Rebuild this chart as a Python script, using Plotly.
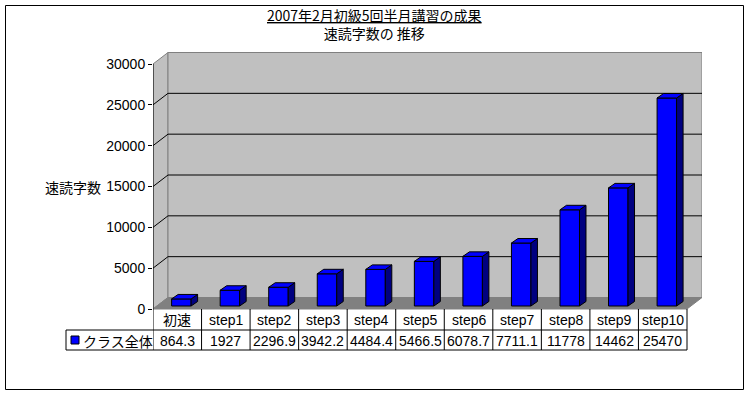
import plotly.graph_objects as go

# ---- data ----
categories = ["初速", "step1", "step2", "step3", "step4", "step5",
              "step6", "step7", "step8", "step9", "step10"]
values = [864.3, 1927, 2296.9, 3942.2, 4484.4, 5466.5,
          6078.7, 7711.1, 11778, 14462, 25470]
value_labels = ["864.3", "1927", "2296.9", "3942.2", "4484.4", "5466.5",
                "6078.7", "7711.1", "11778", "14462", "25470"]
series_name = "クラス全体"
y_ticks = [0, 5000, 10000, 15000, 20000, 25000, 30000]
title1 = "2007年2月初級5回半月講習の成果"
title2 = "速読字数の 推移"
y_title = "速読字数"

# ---- layout geometry (pixels) ----
W, H = 748, 393
PL, PR, PT, PB = 153, 702, 52, 350      # plot area
FRONT_R = 687                            # front right edge (table right)
Y0PX, YTOPPX = 309, 64                   # front 0 and front 30000
n = len(categories)
U = (FRONT_R - PL) / n                   # px per category
V = (Y0PX - YTOPPX) / 30000.0            # px per value unit

def xd(px):
    return -0.5 + (px - PL) / U

def yd(py):
    return (Y0PX - py) / V

def xp(px):
    return (px - PL) / (PR - PL)

def yp(py):
    return (PB - py) / (PB - PT)

# depth offsets
WDX = 15 / U
WDY = 11.5 / V
BFX = 4.1 / U      # bar front offset
BFY = 3.0 / V
BW = 19.5 / U      # bar width
BDX = 6.5 / U      # bar depth
BDY = 4.5 / V

FONT = "Liberation Sans, Arial, Noto Sans CJK JP"
CJK = "Noto Sans CJK JP, Liberation Sans"

fig = go.Figure()

# front faces
fig.add_trace(go.Bar(
    x=[i + BFX for i in range(n)], y=values, base=BFY, width=BW,
    marker=dict(color="#0000FF", line=dict(color="black", width=1)),
    hoverinfo="skip", showlegend=False))

# top and side faces computed from values
tx, ty, sx, sy = [], [], [], []
for i, v in enumerate(values):
    xl = i + BFX - BW / 2
    xr = i + BFX + BW / 2
    top = v + BFY
    tx += [xl, xr, xr + BDX, xl + BDX, xl, None]
    ty += [top, top, top + BDY, top + BDY, top, None]
    sx += [xr, xr, xr + BDX, xr + BDX, xr, None]
    sy += [BFY, top, top + BDY, BFY + BDY, BFY, None]
fig.add_trace(go.Scatter(x=sx, y=sy, mode="lines", fill="toself",
                         fillcolor="#000080", line=dict(color="black", width=1),
                         hoverinfo="skip", showlegend=False))
fig.add_trace(go.Scatter(x=tx, y=ty, mode="lines", fill="toself",
                         fillcolor="#0000FF", line=dict(color="black", width=1),
                         hoverinfo="skip", showlegend=False))

shapes = []
xF0, xF1 = -0.5, n - 0.5
ytop = y_ticks[-1]
# left wall
shapes.append(dict(type="path", xref="x", yref="y", layer="below",
                   path=f"M{xF0},0 L{xF0},{ytop} L{xF0+WDX},{ytop+WDY} L{xF0+WDX},{WDY} Z",
                   fillcolor="#C0C0C0", line=dict(color="#808080", width=1)))
# back wall
shapes.append(dict(type="path", xref="x", yref="y", layer="below",
                   path=f"M{xF0+WDX},{WDY} L{xF0+WDX},{ytop+WDY} L{xF1+WDX},{ytop+WDY} L{xF1+WDX},{WDY} Z",
                   fillcolor="#C0C0C0", line=dict(color="#808080", width=1)))
# floor
shapes.append(dict(type="path", xref="x", yref="y", layer="below",
                   path=f"M{xF0},0 L{xF1},0 L{xF1+WDX},{WDY} L{xF0+WDX},{WDY} Z",
                   fillcolor="#808080", line=dict(color="#808080", width=1)))
# gridlines
for t in y_ticks[1:-1]:
    shapes.append(dict(type="line", xref="x", yref="y", layer="below",
                       x0=xF0 + WDX, x1=xF1 + WDX, y0=t + WDY, y1=t + WDY,
                       line=dict(color="black", width=1)))
    shapes.append(dict(type="line", xref="x", yref="y", layer="below",
                       x0=xF0, x1=xF0 + WDX, y0=t, y1=t + WDY,
                       line=dict(color="black", width=1)))
# front axis line
shapes.append(dict(type="line", xref="x", yref="y", x0=xF0, x1=xF0, y0=0, y1=ytop,
                   line=dict(color="black", width=1)))

# table
r1_top, r1_bot, r2_bot = Y0PX, 330, 350
TL = 66
for k in range(n + 1):
    shapes.append(dict(type="line", xref="x", yref="paper",
                       x0=k - 0.5, x1=k - 0.5, y0=yp(r1_top), y1=yp(r2_bot),
                       line=dict(color="black", width=1)))
for yy in (r1_bot, r2_bot):
    shapes.append(dict(type="line", xref="paper", yref="paper",
                       x0=xp(TL), x1=xp(FRONT_R), y0=yp(yy), y1=yp(yy),
                       line=dict(color="black", width=1)))
shapes.append(dict(type="line", xref="paper", yref="paper",
                   x0=xp(TL), x1=xp(TL), y0=yp(r1_bot), y1=yp(r2_bot),
                   line=dict(color="black", width=1)))
# legend key
shapes.append(dict(type="rect", xref="paper", yref="paper",
                   x0=xp(71), x1=xp(79), y0=yp(344), y1=yp(336),
                   fillcolor="#0000FF", line=dict(color="black", width=1)))
# outer border
shapes.append(dict(type="rect", xref="paper", yref="paper",
                   x0=xp(5.5), x1=xp(743.5), y0=yp(389.5), y1=yp(5.5),
                   line=dict(color="black", width=1)))

ann = []
for i, c in enumerate(categories):
    ann.append(dict(x=i, y=yd(320), xref="x", yref="y", text=c, showarrow=False,
                    xanchor="center", yanchor="middle",
                    font=dict(family=FONT, size=14, color="black")))
    ann.append(dict(x=i, y=yd(340.5), xref="x", yref="y", text=value_labels[i],
                    showarrow=False, xanchor="center", yanchor="middle",
                    font=dict(family=FONT, size=14, color="black")))
ann.append(dict(x=xp(81), y=yp(340.5), xref="paper", yref="paper", text=series_name,
                xanchor="left", yanchor="middle", showarrow=False,
                font=dict(family=CJK, size=14, color="black")))
ann.append(dict(x=xp(374), y=yp(24.5), xref="paper", yref="paper",
                text=f"<u>{title1}</u><br>{title2}", showarrow=False,
                xanchor="center", yanchor="middle", align="center",
                font=dict(family=CJK, size=14, color="black")))
ann.append(dict(x=xp(73), y=yp(187), xref="paper", yref="paper",
                text=y_title, showarrow=False,
                xanchor="center", yanchor="middle",
                font=dict(family=CJK, size=14, color="black")))

fig.update_layout(
    width=W, height=H,
    margin=dict(l=PL, r=W - PR, t=PT, b=H - PB, pad=0),
    paper_bgcolor="white", plot_bgcolor="rgba(0,0,0,0)",
    shapes=shapes, annotations=ann, showlegend=False,
    xaxis=dict(range=[xd(PL), xd(PR)], visible=False, fixedrange=True),
    yaxis=dict(range=[yd(PB), yd(PT)], tickvals=y_ticks,
               ticktext=[str(t) for t in y_ticks],
               ticks="outside", ticklen=4, tickcolor="black", tickwidth=1,
               showgrid=False, zeroline=False, showline=False,
               tickfont=dict(family=FONT, size=14, color="black"),
               ticklabelstandoff=0, fixedrange=True),
)

fig.write_html("out.html", config={"displayModeBar": False},
               post_script="document.body.style.margin='0';document.body.style.overflow='hidden';")
